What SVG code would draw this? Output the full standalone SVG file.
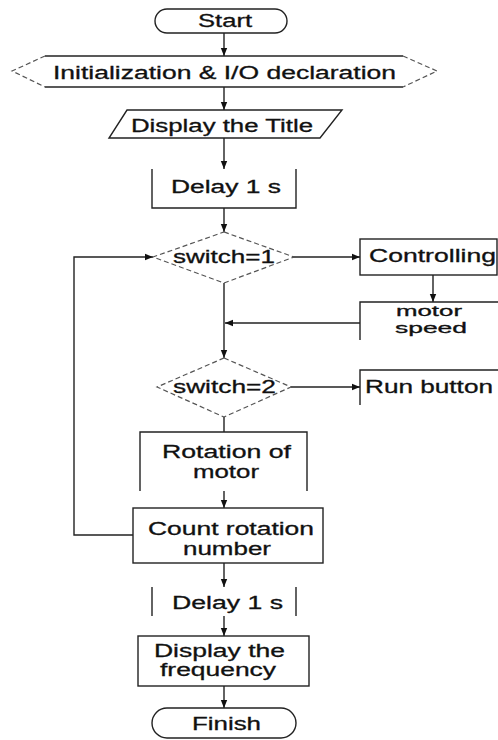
<svg xmlns="http://www.w3.org/2000/svg" width="498" height="740" viewBox="0 0 498 740">
<style>
  .t{font-family:"Liberation Sans",Arial,sans-serif;font-size:18px;fill:#111;stroke:#111;stroke-width:0.3;text-anchor:start}
  .s{font-size:14px}
  .n{fill:none;stroke:#222;stroke-width:1.4}
  .d{fill:none;stroke:#555;stroke-width:1.2;stroke-dasharray:5,3}
  .c{fill:none;stroke:#222;stroke-width:1.4}
</style>
<defs>
  <marker id="ah" viewBox="0 0 10 10" refX="10" refY="5" markerWidth="8" markerHeight="8" markerUnits="userSpaceOnUse" orient="auto">
    <path d="M0,1 L10,5 L0,9 Z" fill="#111"/>
  </marker>
</defs>
<rect width="498" height="740" fill="#fff"/>

<g id="connectors">
  <line class="c" x1="224" y1="33" x2="224" y2="56" marker-end="url(#ah)"/>
  <line class="c" x1="224" y1="87" x2="224" y2="110" marker-end="url(#ah)"/>
  <line class="c" x1="224" y1="138" x2="224" y2="169" marker-end="url(#ah)"/>
  <line class="c" x1="224" y1="208" x2="224" y2="232" marker-end="url(#ah)"/>
  <line class="c" x1="293" y1="257" x2="360" y2="257" marker-end="url(#ah)"/>
  <line class="c" x1="433" y1="275" x2="433" y2="302" marker-end="url(#ah)"/>
  <line class="c" x1="360" y1="323" x2="225" y2="323" marker-end="url(#ah)"/>
  <line class="c" x1="224" y1="283" x2="224" y2="358" marker-end="url(#ah)"/>
  <line class="c" x1="291" y1="387" x2="360" y2="387" marker-end="url(#ah)"/>
  <line class="c" x1="224" y1="417" x2="224" y2="432"/>
  <line class="c" x1="224" y1="491" x2="224" y2="508" marker-end="url(#ah)"/>
  <polyline class="c" points="133,535 74,535 74,257 153,257" marker-end="url(#ah)"/>
  <line class="c" x1="224" y1="563" x2="224" y2="587" marker-end="url(#ah)"/>
  <line class="c" x1="224" y1="616" x2="224" y2="636" marker-end="url(#ah)"/>
  <line class="c" x1="224" y1="686" x2="224" y2="708" marker-end="url(#ah)"/>
</g>

<g id="start">
  <rect class="n" x="155" y="9" width="132" height="24" rx="12"/>
  <text class="t" x="198" y="27" textLength="54" lengthAdjust="spacingAndGlyphs">Start</text>
</g>

<g id="init">
  <line class="n" x1="45" y1="56" x2="403" y2="56"/>
  <line class="n" x1="45" y1="87" x2="403" y2="87"/>
  <polyline class="d" points="45,56 12,71 45,87"/>
  <polyline class="d" points="403,56 437,71 403,87"/>
  <text class="t" x="53" y="79" textLength="343" lengthAdjust="spacingAndGlyphs">Initialization &amp; I/O declaration</text>
</g>

<g id="title">
  <polygon class="n" points="127,110 342,110 320,138 109,138"/>
  <text class="t" x="131" y="132" textLength="182" lengthAdjust="spacingAndGlyphs">Display the Title</text>
</g>

<g id="delay1">
  <path class="n" d="M152,169 V208 H296 V169"/>
  <text class="t" x="171" y="193" textLength="110" lengthAdjust="spacingAndGlyphs">Delay 1 s</text>
</g>

<g id="switch1">
  <polygon class="d" points="224,232 294,257 224,283 153,257"/>
  <text class="t" x="173" y="263" textLength="102" lengthAdjust="spacingAndGlyphs">switch=1</text>
</g>

<g id="controlling">
  <rect class="n" x="360" y="239" width="137" height="36"/>
  <text class="t" x="369" y="262" textLength="127" lengthAdjust="spacingAndGlyphs">Controlling</text>
</g>

<g id="motorspeed">
  <path class="n" d="M360,340 V302 H498"/>
  <text class="t s" x="396" y="316" textLength="66" lengthAdjust="spacingAndGlyphs">motor</text>
  <text class="t s" x="395" y="333" textLength="72" lengthAdjust="spacingAndGlyphs">speed</text>
</g>

<g id="switch2">
  <polygon class="d" points="224,358 291,387 224,417 157,387"/>
  <text class="t" x="173" y="393" textLength="103" lengthAdjust="spacingAndGlyphs">switch=2</text>
</g>

<g id="runbutton">
  <path class="n" d="M360,405 V370 H498"/>
  <text class="t" x="365" y="393" textLength="128" lengthAdjust="spacingAndGlyphs">Run button</text>
</g>

<g id="rotation">
  <path class="n" d="M140,491 V432 H307 V491"/>
  <text class="t" x="162" y="458" textLength="129" lengthAdjust="spacingAndGlyphs">Rotation of</text>
  <text class="t" x="193" y="478" textLength="66" lengthAdjust="spacingAndGlyphs">motor</text>
</g>

<g id="count">
  <rect class="n" x="133" y="508" width="190" height="55"/>
  <text class="t" x="148" y="535" textLength="166" lengthAdjust="spacingAndGlyphs">Count rotation</text>
  <text class="t" x="183" y="555" textLength="88" lengthAdjust="spacingAndGlyphs">number</text>
</g>

<g id="delay2">
  <line class="n" x1="152" y1="587" x2="152" y2="616"/>
  <line class="n" x1="296" y1="587" x2="296" y2="616"/>
  <text class="t" x="172" y="609" textLength="111" lengthAdjust="spacingAndGlyphs">Delay 1 s</text>
</g>

<g id="displayfreq">
  <rect class="n" x="138" y="636" width="171" height="50"/>
  <text class="t" x="154" y="657" textLength="131" lengthAdjust="spacingAndGlyphs">Display the</text>
  <text class="t" x="160" y="676" textLength="116" lengthAdjust="spacingAndGlyphs">frequency</text>
</g>

<g id="finish">
  <rect class="n" x="152" y="708" width="144" height="30" rx="15"/>
  <text class="t" x="192" y="730" textLength="69" lengthAdjust="spacingAndGlyphs">Finish</text>
</g>
</svg>
